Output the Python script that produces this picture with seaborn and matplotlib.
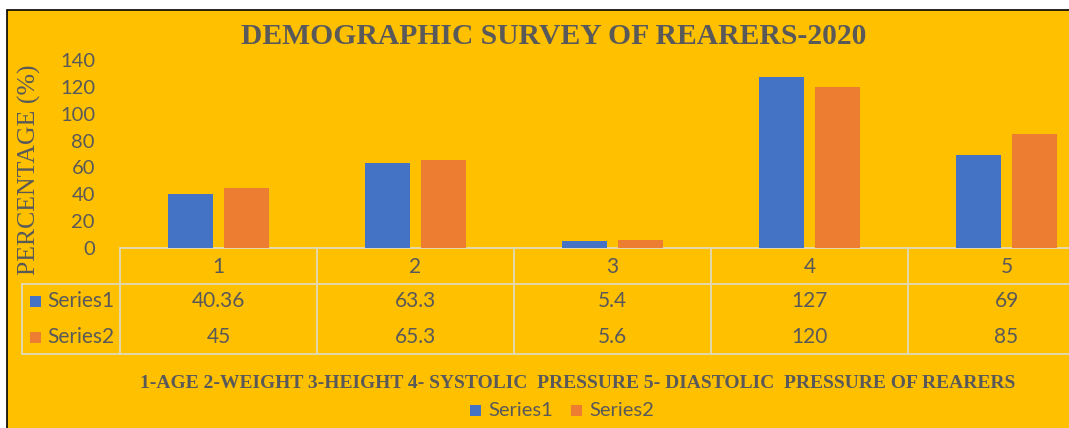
import numpy as np
import pandas as pd
import matplotlib
matplotlib.use("Agg")
import matplotlib.pyplot as plt
import matplotlib.transforms as mtransforms
from matplotlib.lines import Line2D
from matplotlib.patches import Rectangle
import seaborn as sns

# ---- data ----
categories = ["1", "2", "3", "4", "5"]
series_names = ["Series1", "Series2"]
series1 = [40.36, 63.3, 5.4, 127, 69]
series2 = [45, 65.3, 5.6, 120, 85]
series1_labels = ["40.36", "63.3", "5.4", "127", "69"]
series2_labels = ["45", "65.3", "5.6", "120", "85"]
yticks = [0, 20, 40, 60, 80, 100, 120, 140]
title = "DEMOGRAPHIC SURVEY OF REARERS-2020"
ylabel = "PERCENTAGE (%)"
xlabel = "1-AGE 2-WEIGHT 3-HEIGHT 4- SYSTOLIC  PRESSURE 5- DIASTOLIC  PRESSURE OF REARERS"

df = pd.DataFrame({
    "cat": categories * 2,
    "series": [series_names[0]] * 5 + [series_names[1]] * 5,
    "value": series1 + series2,
})

BG = "#FFC000"
BLUE = "#4472C4"
ORANGE = "#ED7D31"
TXT = "#595959"
GRID = "#E3D9B8"
W, H = 1069, 428
SANS = "Lato"
SERIF = "Liberation Serif"

sns.set_theme(style="white")
plt.rcParams["font.family"] = [SANS, "DejaVu Sans"]

fig = plt.figure(figsize=(W / 100, H / 100), dpi=100, facecolor="white")
fx = lambda px: px / W
fy = lambda py: 1 - py / H

# chart background with border (left and top edges visible)
fig.patches.append(Rectangle((fx(7), -0.1), 1.2, fy(10) + 0.1, transform=fig.transFigure,
                             facecolor=BG, edgecolor="black", linewidth=1.2, zorder=-5))

left_px, right_px = 120, 120 + 5 * 197
top_px, bottom_px = 60, 248
ax = fig.add_axes([fx(left_px), fy(bottom_px), (right_px - left_px) / W, (bottom_px - top_px) / H])
ax.set_facecolor("none")
ax.set_zorder(2)

sns.barplot(data=df, x="cat", y="value", hue="series", order=categories,
            hue_order=series_names, palette=[BLUE, ORANGE], width=0.5685, gap=0.214,
            saturation=1, linewidth=0, ax=ax, legend=False)

ax.set_xlim(-0.5, len(categories) - 0.5)
ax.set_ylim(0, 140)
ax.set_yticks(yticks)
ax.set_yticklabels([str(t) for t in yticks], fontsize=14.5, color=TXT, fontfamily=SANS)
ax.tick_params(axis="y", length=0, pad=18)
ax.set_xticks([])
ax.set_xlabel("")
ax.set_ylabel("")
for s in ax.spines.values():
    s.set_visible(False)

# ---- data table ----
bt = mtransforms.blended_transform_factory(ax.transData, fig.transFigure)
y_top, y_hdr, y_bot = fy(248), fy(284), fy(354)
xs_edges = [i - 0.5 for i in range(len(categories) + 1)]
x_far = len(categories) + 1

def hline(x0, x1, y, trans):
    fig.add_artist(Line2D([x0, x1], [y, y], transform=trans, color=GRID, lw=1.3, clip_on=False))

def vline(x, y0, y1, trans):
    fig.add_artist(Line2D([x, x], [y0, y1], transform=trans, color=GRID, lw=1.3, clip_on=False))

hline(-0.5, x_far, y_top, bt)
hline(-0.5, x_far, y_hdr, bt)
hline(-0.5, x_far, y_bot, bt)
hline(fx(22), fx(left_px), y_hdr, fig.transFigure)
hline(fx(22), fx(left_px), y_bot, fig.transFigure)
vline(fx(22), y_hdr, y_bot, fig.transFigure)
for i, xe in enumerate(xs_edges):
    vline(xe, y_top, y_bot, bt)

for i, c in enumerate(categories):
    fig.text(i, fy(267), c, transform=bt, ha="center", va="center", fontsize=15, color=TXT)
    fig.text(i, fy(301), series1_labels[i], transform=bt, ha="center", va="center", fontsize=15, color=TXT)
    fig.text(i, fy(337), series2_labels[i], transform=bt, ha="center", va="center", fontsize=15, color=TXT)

for name, col, ypx in [(series_names[0], BLUE, 301), (series_names[1], ORANGE, 337)]:
    fig.patches.append(Rectangle((fx(30), fy(ypx + 6)), fx(11), 11 / H, transform=fig.transFigure,
                                 facecolor=col, edgecolor="none"))
    fig.text(fx(47), fy(ypx), name, ha="left", va="center", fontsize=15, color=TXT)

# ---- titles ----
fig.text(fx(554), fy(36), title, ha="center", va="center", fontsize=21.3, fontweight="bold",
         color=TXT, fontfamily=SERIF)
fig.text(fx(29), fy(170), ylabel, ha="center", va="center", rotation=90, fontsize=18.5,
         color=TXT, fontfamily=SERIF)
fig.text(fx(578), fy(383), xlabel, ha="center", va="center", fontsize=14, fontweight="bold",
         color=TXT, fontfamily=SERIF)

# ---- legend ----
for name, col, xpx in [(series_names[0], BLUE, 470), (series_names[1], ORANGE, 571)]:
    fig.patches.append(Rectangle((fx(xpx), fy(416)), fx(11), 11 / H, transform=fig.transFigure,
                                 facecolor=col, edgecolor="none"))
    fig.text(fx(xpx + 18), fy(410), name, ha="left", va="center", fontsize=14.5, color=TXT)

fig.savefig("out.png", dpi=100, facecolor="white")
